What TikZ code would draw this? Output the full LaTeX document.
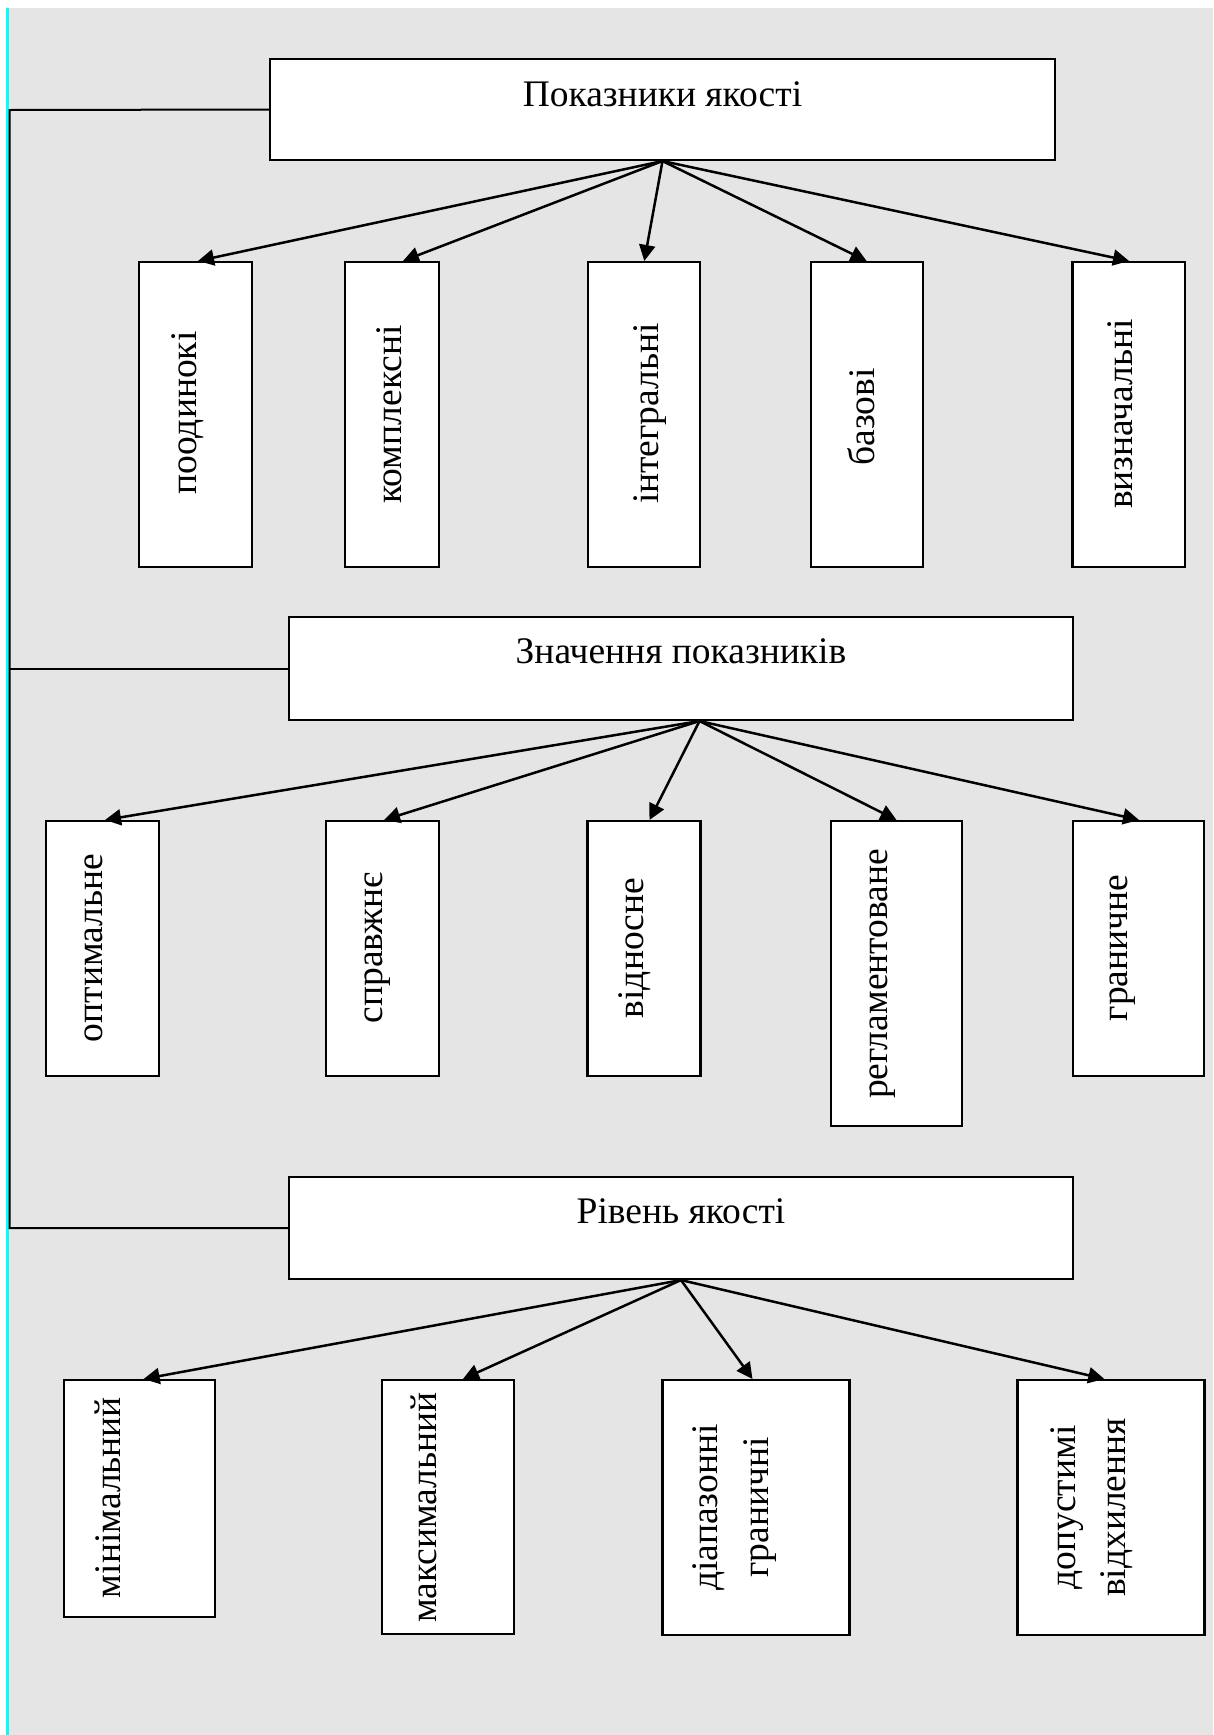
\documentclass[tikz,border=0pt]{standalone}
\usepackage{fontspec}
\setmainfont{Liberation Serif}
\usetikzlibrary{arrows.meta}
\definecolor{panel}{RGB}{229,229,229}
\definecolor{edgecyan}{RGB}{0,255,255}
\begin{document}
\begin{tikzpicture}[x=1pt,y=-1pt,
  box/.style={draw=black, line width=2.1pt, fill=white, rectangle, inner sep=0pt},
  lbl/.style={font=\fontsize{37.5}{45}\selectfont, inner sep=0pt, anchor=base},
  vlbl/.style={lbl, rotate=90},
  link/.style={line width=2.5pt, -{Triangle[length=16pt,width=16pt]}},
  tie/.style={line width=2pt}]

% page and grey panel
\fill[white] (0,0) rectangle (1213,1735);
\useasboundingbox (0,0) rectangle (1213,1735);
\fill[panel] (7,8) rectangle (1213,1735);
\fill[edgecyan] (6.4,8) rectangle (8.6,1735);

% three main headings
\node[box, minimum width=785, minimum height=101] (b1) at (662.5,109.5) {};
\node[box, minimum width=784, minimum height=103] (b2) at (681,668.5) {};
\node[box, minimum width=784, minimum height=102] (b3) at (681,1228) {};
\node[lbl] (t1) at (662.5,106) {Показники якості};
\node[lbl] (t2) at (681,663) {Значення показників};
\node[lbl] (t3) at (681,1223) {Рівень якості};

% spine on the left
\coordinate (spineTop) at (9.6,110);
\coordinate (spineBot) at (9.6,1228);
\draw[tie] (b1.west) -- (spineTop) -- (spineBot) -- (b3.west);
\draw[tie] (b2.west) -- (b2.west -| spineTop);

% first row: kinds of indicators
\node[box, minimum width=113, minimum height=305] (p1) at (195.5,414.5) {};
\node[box, minimum width=94,  minimum height=305] (p2) at (392,414.5) {};
\node[box, minimum width=112, minimum height=305] (p3) at (644,414.5) {};
\node[box, minimum width=112, minimum height=305] (p4) at (867,414.5) {};
\node[box, minimum width=112.5, minimum height=305] (p5) at (1128.75,414.5) {};
\node[vlbl] (pt1) at (196,413) {поодинокі};
\node[vlbl] (pt2) at (401,414.5) {комплексні};
\node[vlbl] (pt3) at (658.5,413.5) {інтегральні};
\node[vlbl] (pt4) at (874,417) {базові};
\node[vlbl] (pt5) at (1132,414) {визначальні};

\draw[link] (b1.south) -- ([xshift=2.5]p1.north);
\draw[link] (b1.south) -- ([xshift=11]p2.north);
\draw[link] (b1.south) -- ([xshift=0.3]p3.north);
\draw[link] (b1.south) -- ([xshift=-0.4]p4.north);
\draw[link] (b1.south) -- ([xshift=0.3]p5.north);

% second row: values of indicators
\node[box, minimum width=113, minimum height=255] (v1) at (102.5,948.5) {};
\node[box, minimum width=113, minimum height=255] (v2) at (382.5,948.5) {};
\node[box, minimum width=113, minimum height=255] (v3) at (644,948.5) {};
\node[box, minimum width=131, minimum height=305] (v4) at (896.3,973.5) {};
\node[box, minimum width=131, minimum height=255] (v5) at (1138.7,948.5) {};
\node[vlbl] (vt1) at (102,948) {оптимальне};
\node[vlbl] (vt2) at (382,948) {справжнє};
\node[vlbl] (vt3) at (643.3,948) {відносне};
\node[vlbl] (vt4) at (887,974) {регламентоване};
\node[vlbl] (vt5) at (1127,948) {граничне};

\coordinate (s2) at ([xshift=18.5]b2.south);
\draw[link] (s2) -- ([xshift=2.5]v1.north);
\draw[link] (s2) -- ([xshift=1.5]v2.north);
\draw[link] (s2) -- ([xshift=5.5]v3.north);
\draw[link] (s2) -- ([xshift=0.2]v4.north);
\draw[link] (s2) -- ([xshift=0.3]v5.north);

% third row: quality levels
\node[box, minimum width=151, minimum height=237] (r1) at (139.6,1498.5) {};
\node[box, minimum width=131.6, minimum height=254] (r2) at (447.8,1507) {};
\node[box, minimum width=187, minimum height=255] (r3) at (756,1507.5) {};
\node[box, minimum width=187, minimum height=255] (r4) at (1111,1507.5) {};
\node[vlbl] (rt1) at (120,1497.5) {мінімальний};
\node[vlbl] (rt2) at (436.4,1507.5) {максимальний};
\node[vlbl] (rt3a) at (717.3,1507.5) {діапазонні};
\node[vlbl] (rt3b) at (768.9,1507.5) {граничні};
\node[vlbl] (rt4a) at (1075,1507.5) {допустимі};
\node[vlbl] (rt4b) at (1125.8,1507.5) {відхилення};

\draw[link] (b3.south) -- ([xshift=4]r1.north);
\draw[link] (b3.south) -- ([xshift=15.2]r2.north);
\draw[link] (b3.south) -- ([xshift=-3.5]r3.north);
\draw[link] (b3.south) -- ([xshift=-6.7]r4.north);
\end{tikzpicture}
\end{document}
